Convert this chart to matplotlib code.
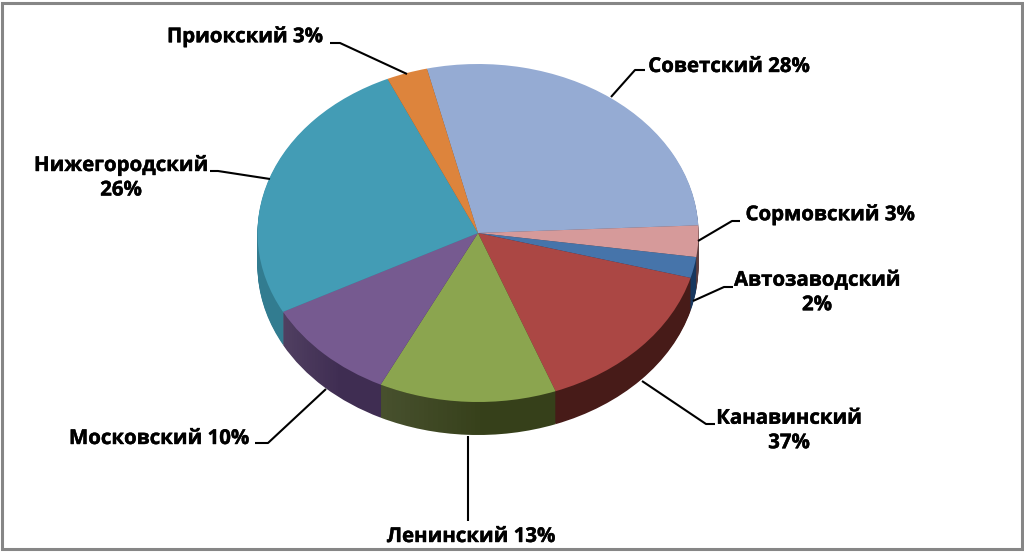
import matplotlib
matplotlib.use("Agg")
import matplotlib.pyplot as plt
import matplotlib.patheffects as pe
import numpy as np

# доли секторов (как нарисовано на диаграмме)
districts = ["Советский", "Сормовский", "Автозаводский", "Канавинский",
             "Ленинский", "Московский", "Нижегородский", "Приокский"]
values = [28, 3, 2, 15, 13, 10, 26, 3]
labels = ["Советский 28%", "Сормовский 3%", "Автозаводский\n2%", "Канавинский\n37%",
          "Ленинский 13%", "Московский 10%", "Нижегородский\n26%", "Приокский 3%"]

top_colors = ["#95abd3", "#d69a9a", "#4674aa", "#ab4744",
              "#8ba54f", "#765a90", "#439cb5", "#dd843c"]
side_colors = ["#4a5a78", "#5e3f3f", "#17375e", "#471b18",
               "#36401a", "#3f2d52", "#327c90", "#8a5020"]

# подписи и выноски в пикселях картинки
label_pos = [(729, 67), (830, 215), (817, 293), (789, 431),
             (471, 537), (159, 439), (121, 178), (245, 37)]
leaders = [[(611, 97), (635, 70), (645, 70)],
           [(698, 241), (732, 221), (740, 221)],
           [(693, 301), (724, 287), (733, 287)],
           [(642, 381), (706, 424), (715, 424)],
           [(468, 436), (468, 521)],
           [(326, 389), (268, 443), (255, 443)],
           [(270, 179), (218, 171), (210, 171)],
           [(407, 74), (340, 43), (330, 43)]]

W, H = 1024, 552
cx, cy, rx, ry, depth = 478, 233, 220.5, 169, 33
start = 103.4

fig = plt.figure(figsize=(W / 100, H / 100), dpi=100)
ax = fig.add_axes([0, 0, 1, 1])

# боковая стенка: стопка кругов со сдвигом вниз
for off in np.arange(depth, 0, -1):
    ax.pie(values, colors=side_colors, startangle=start, counterclock=False,
           center=(0, -off / ry), wedgeprops={"linewidth": 0.6, "edgecolor": "none"})

# светлый перелив на стенках Ленинского и Московского (слева светлее)
edges = start - np.cumsum([0] + values) * 3.6
for i in [4, 5]:
    t = np.radians(np.linspace(edges[i], edges[i + 1], 60))
    xs, ys = np.cos(t), np.sin(t)
    poly = np.vstack([np.c_[xs, ys], np.c_[xs, ys - depth / ry][::-1]])
    clip = plt.Polygon(poly, transform=ax.transData, facecolor="none", edgecolor="none")
    ax.add_patch(clip)
    shade = np.ones((1, 64, 4))
    shade[0, :, 3] = np.concatenate([np.linspace(0.09, 0.0, 40), np.zeros(24)])
    im = ax.imshow(shade, extent=(xs.min(), xs.max(), ys.min() - depth / ry, ys.max()),
                   aspect="auto", zorder=1.5)
    im.set_clip_path(clip)

ax.pie(values, colors=top_colors, startangle=start, counterclock=False,
       wedgeprops={"linewidth": 0, "zorder": 2})
ax.set_aspect("auto")
ax.set_xlim(-cx / rx, (W - cx) / rx)
ax.set_ylim((cy - H) / ry, cy / ry)

# верхний слой в пикселях: рамка, выноски, подписи
over = fig.add_axes([0, 0, 1, 1], facecolor="none")
over.set_xlim(0, W)
over.set_ylim(H, 0)
over.axis("off")
over.add_patch(plt.Rectangle((1.5, 3), W - 4, H - 6, fill=False, edgecolor="#868686", linewidth=2.2))

for pts in leaders:
    xs, ys = zip(*pts)
    over.plot(xs, ys, color="black", linewidth=1.5, solid_capstyle="butt")

for text, (x, y) in zip(labels, label_pos):
    over.text(x, y, text, ha="center", va="center", fontsize=14.7, fontweight="bold",
              family="Open Sans", color="black", linespacing=1.3,
              path_effects=[pe.withStroke(linewidth=0.3, foreground="black")])

fig.savefig("out.png", dpi=100)
